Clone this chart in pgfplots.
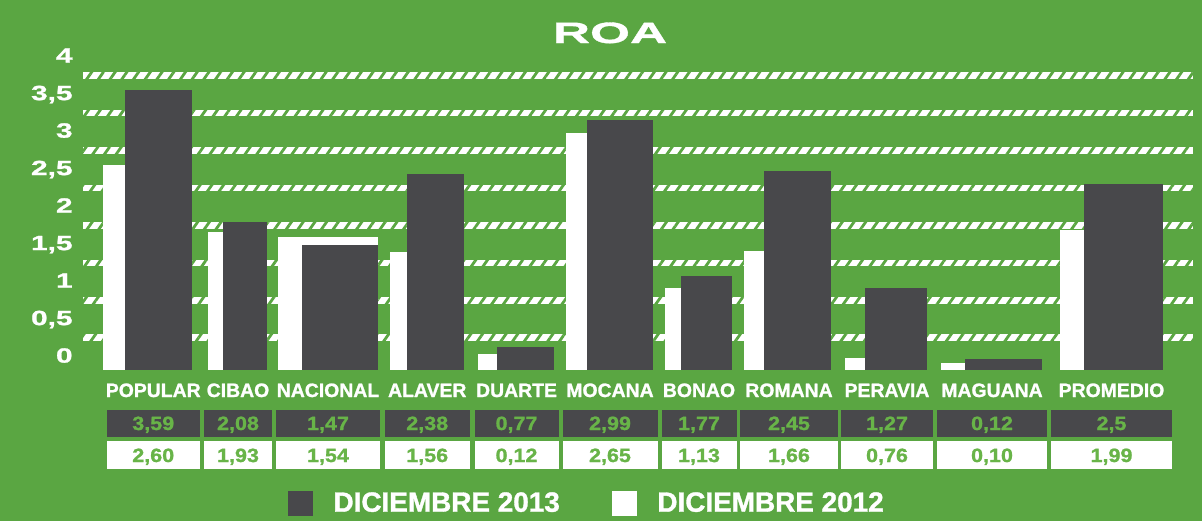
\documentclass[border=0pt]{standalone}
\usepackage{fontspec}
\setmainfont{Liberation Sans}[FakeBold=1.2]
\newfontfamily\extfont{Liberation Sans}[FakeStretch=1.45,FakeBold=1.2]
\newfontfamily\titlefont{Liberation Sans}[FakeStretch=1.75,FakeBold=1.2]
\newfontfamily\numfont{Liberation Sans}[FakeStretch=1.12,FakeBold=1.2]
\usepackage{pgfplots}
\pgfplotsset{compat=1.18}
\usetikzlibrary{patterns.meta}
\definecolor{bg}{RGB}{90,166,66}
\definecolor{dk}{RGB}{72,72,75}
\definecolor{tg}{RGB}{104,180,72}
% 1 px of the reference = 0.5pt; y measured from the top of the picture
\newcommand\px[2]{({(#1)*0.5pt},{(370-(#2))*0.5pt})}
\newcommand\catf{\fontsize{9.7pt}{11pt}\selectfont\bfseries}
\newcommand\valf{\numfont\fontsize{9.6pt}{11pt}\selectfont\bfseries}
\newcommand\cell[5]{%
  \fill[dk] \px{#1}{409.5} rectangle \px{#2}{437};
  \fill[white] \px{#1}{441} rectangle \px{#2}{469};
  \node[anchor=base,inner sep=0pt,text=white,font=\catf] at \px{(#1+#2)/2}{397} {#3};
  \node[anchor=base,inner sep=0pt,text=tg,font=\valf] at \px{(#1+#2)/2}{430} {#4};
  \node[anchor=base,inner sep=0pt,text=tg,font=\valf] at \px{(#1+#2)/2}{462} {#5};
}
\begin{document}
\begin{tikzpicture}
\fill[bg] \px{0}{0} rectangle \px{1202}{521};
\foreach \y in {337.7,300.3,262.8,225.4,188,150.5,113.1,75.7}{
  \fill[white] \px{83}{\y-3.25} rectangle \px{1193}{\y+3.25};
  \fill[pattern={Lines[angle=55,distance=4.8pt,line width=1.4pt]},pattern color=bg] \px{83}{\y-3.25} rectangle \px{1193}{\y+3.25};
}
\node[anchor=base,inner sep=0pt,text=white,font=\titlefont\fontsize{14.7pt}{16pt}\selectfont\bfseries] at \px{610}{43} {ROA};
\begin{axis}[
  at={(0,0)}, anchor=south west,
  scale only axis, width=601pt, height=165pt,
  xmin=0, xmax=1202, ymin=0, ymax=4.4,
  axis line style={draw=none}, tick style={draw=none}, major tick length=0pt,
  xtick=\empty,
  ytick={0,0.5,1,1.5,2,2.5,3,3.5,4},
  yticklabels={0,{0,5},1,{1,5},2,{2,5},3,{3,5},4},
  yticklabel style={anchor=base east, inner sep=0pt, xshift=36.5pt, yshift=3.7pt,
    text=white, font=\extfont\fontsize{10.3pt}{12pt}\selectfont\bfseries},
  clip=false,
  legend columns=2,
  legend style={at={(0.2396,-0.4045)}, anchor=west, draw=none, fill=none,
    inner sep=0pt, outer sep=0pt, text=white,
    font=\fontsize{13.95pt}{16pt}\selectfont\bfseries,
    nodes={inner sep=0pt},
    /tikz/every odd column/.append style={column sep=10.25pt},
    /tikz/every even column/.append style={column sep=26pt}},
  legend image code/.code={\fill (0pt,-6.25pt) rectangle (12.5pt,6.25pt);},
]
% DICIEMBRE 2012 (white), full column width
\addplot[ybar, bar width=89,    bar shift=0, fill=white, draw=none, forget plot] coordinates {(147.8,2.733)};
\addplot[ybar, bar width=58.4,  bar shift=0, fill=white, draw=none, forget plot] coordinates {(237.5,1.836)};
\addplot[ybar, bar width=100,   bar shift=0, fill=white, draw=none, forget plot] coordinates {(328.3,1.769)};
\addplot[ybar, bar width=74,    bar shift=0, fill=white, draw=none, forget plot] coordinates {(427,1.577)};
\addplot[ybar, bar width=75.7,  bar shift=0, fill=white, draw=none, forget plot] coordinates {(516.15,0.209)};
\addplot[ybar, bar width=87.6,  bar shift=0, fill=white, draw=none, forget plot] coordinates {(609.5,3.156)};
\addplot[ybar, bar width=67.3,  bar shift=0, fill=white, draw=none, forget plot] coordinates {(698.65,1.089)};
\addplot[ybar, bar width=87,    bar shift=0, fill=white, draw=none, forget plot] coordinates {(787.5,1.587)};
\addplot[ybar, bar width=82.3,  bar shift=0, fill=white, draw=none, forget plot] coordinates {(886.15,0.164)};
\addplot[ybar, bar width=101.3, bar shift=0, fill=white, draw=none, forget plot] coordinates {(991.65,0.089)};
\addplot[ybar, bar width=103.3, bar shift=0, fill=white, draw=none, forget plot] coordinates {(1111.65,1.867)};
% DICIEMBRE 2013 (dark)
\addplot[ybar, bar width=67.3, bar shift=0, fill=dk, draw=none, forget plot] coordinates {(158.65,3.733)};
\addplot[ybar, bar width=44,   bar shift=0, fill=dk, draw=none, forget plot] coordinates {(244.7,1.969)};
\addplot[ybar, bar width=76.6, bar shift=0, fill=dk, draw=none, forget plot] coordinates {(340,1.667)};
\addplot[ybar, bar width=56.7, bar shift=0, fill=dk, draw=none, forget plot] coordinates {(435.65,2.613)};
\addplot[ybar, bar width=57.3, bar shift=0, fill=dk, draw=none, forget plot] coordinates {(525.35,0.302)};
\addplot[ybar, bar width=66.6, bar shift=0, fill=dk, draw=none, forget plot] coordinates {(620,3.333)};
\addplot[ybar, bar width=51.6, bar shift=0, fill=dk, draw=none, forget plot] coordinates {(706.5,1.253)};
\addplot[ybar, bar width=66.7, bar shift=0, fill=dk, draw=none, forget plot] coordinates {(797.65,2.657)};
\addplot[ybar, bar width=62.3, bar shift=0, fill=dk, draw=none, forget plot] coordinates {(896.15,1.089)};
\addplot[ybar, bar width=77.3, bar shift=0, fill=dk, draw=none, forget plot] coordinates {(1003.65,0.147)};
\addplot[ybar, bar width=79,   bar shift=0, fill=dk, draw=none, forget plot] coordinates {(1123.8,2.476)};
\addlegendimage{fill=dk, draw=none}
\addlegendentry{DICIEMBRE 2013}
\addlegendimage{fill=white, draw=none}
\addlegendentry{DICIEMBRE 2012}
\end{axis}
\cell{106.5}{200}{POPULAR}{3,59}{2,60}
\cell{204}{272}{CIBAO}{2,08}{1,93}
\cell{276}{380}{NACIONAL}{1,47}{1,54}
\cell{384.5}{470}{ALAVER}{2,38}{1,56}
\cell{474.5}{558.5}{DUARTE}{0,77}{0,12}
\cell{562.5}{657.5}{MOCANA}{2,99}{2,65}
\cell{661.5}{736.5}{BONAO}{1,77}{1,13}
\cell{740}{838}{ROMANA}{2,45}{1,66}
\cell{841}{933}{PERAVIA}{1,27}{0,76}
\cell{937}{1047}{MAGUANA}{0,12}{0,10}
\cell{1051}{1172}{PROMEDIO}{2,5}{1,99}
\end{tikzpicture}
\end{document}
